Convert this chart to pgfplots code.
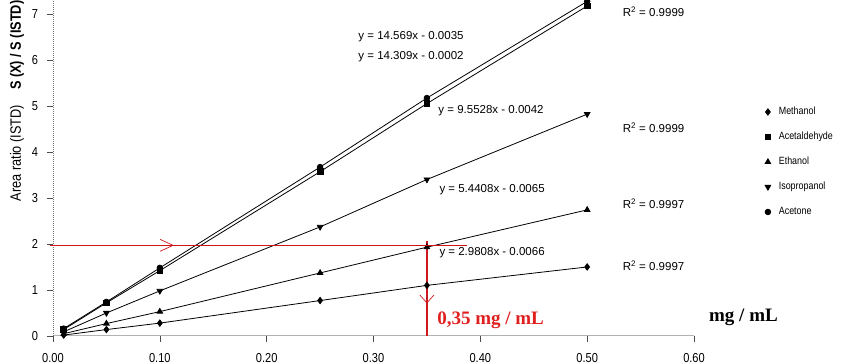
\documentclass[border=0pt]{standalone}
\usepackage{fontspec}
\setmainfont{Liberation Sans}
\newfontfamily\cond[FakeStretch=0.85]{Liberation Sans}
\newfontfamily\tnr{Liberation Serif}
\usepackage{pgfplots}
\pgfplotsset{compat=1.18}
\definecolor{annred}{RGB}{205,24,30}
\definecolor{txtred}{RGB}{224,32,30}

\begin{document}
\begin{tikzpicture}
\begin{axis}[
  at={(53pt,28pt)}, anchor=south west,
  scale only axis, width=641pt, height=336pt,
  xmin=0, xmax=0.6, ymin=0, ymax=7.3,
  axis lines=left, axis line style={-},
  x axis line style={gray!60, line width=1pt},
  y axis line style={black!55, dash pattern=on 1pt off 1pt},
  xtick={0,0.1,0.2,0.3,0.4,0.5,0.6},
  ytick={0,1,2,3,4,5,6,7},
  tick align=outside, major tick length=6pt,
  tick style={black!70, line width=0.5pt},
  /pgf/number format/assume math mode=true,
  xticklabel style={font=\cond\fontsize{13}{13}\selectfont, /pgf/number format/fixed, /pgf/number format/fixed zerofill, /pgf/number format/precision=2, anchor=north, yshift=-8pt},
  yticklabel style={font=\cond\fontsize{13}{13}\selectfont, anchor=east, xshift=-5.5pt},
  clip=false,
  cycle list={{black}},
  every axis plot/.append style={line width=0.8pt, mark size=3.2pt},
  legend style={at={(axis cs:0.6663,4.975)}, anchor=north west, draw=none, fill=none,
    inner sep=0pt, row sep=15.5pt, column sep=8pt,
    font=\cond\fontsize{10.5}{10.5}\selectfont,
    nodes={inner sep=0pt, text height=7.5pt, text depth=2pt}},
  legend cell align=left,
  legend image code/.code={\draw[#1] plot[only marks] coordinates {(0pt,0pt)};},
]
% Methanol
\addplot[black, mark=diamond*, mark options={solid, fill=black}] coordinates {(0.01,0.02) (0.05,0.14) (0.10,0.28) (0.25,0.77) (0.35,1.10) (0.50,1.50)};
\addlegendentry{Methanol}
% Acetaldehyde
\addplot[black, mark=square*, mark options={solid, fill=black}, mark size=2.9pt] coordinates {(0.01,0.14) (0.05,0.72) (0.10,1.42) (0.25,3.57) (0.35,5.05) (0.50,7.17)};
\addlegendentry{Acetaldehyde}
% Ethanol
\addplot[black, mark=triangle*, mark options={solid, fill=black}] coordinates {(0.01,0.05) (0.05,0.27) (0.10,0.53) (0.25,1.37) (0.35,1.93) (0.50,2.74)};
\addlegendentry{Ethanol}
% Isopropanol
\addplot[black, mark=triangle*, mark options={solid, fill=black, rotate=180}] coordinates {(0.01,0.09) (0.05,0.50) (0.10,0.98) (0.25,2.37) (0.35,3.40) (0.50,4.82)};
\addlegendentry{Isopropanol}
% Acetone
\addplot[black, mark=*, mark options={solid, fill=black}, mark size=2.8pt] coordinates {(0.01,0.16) (0.05,0.74) (0.10,1.48) (0.25,3.67) (0.35,5.17) (0.50,7.27)};
\addlegendentry{Acetone}

% red annotation
\draw[annred, line width=1.2pt] (axis cs:0.35,2.06) -- (axis cs:0.35,0);
\draw[annred, line width=0.7pt] (axis cs:0.1002,2.10) -- (axis cs:0.1124,1.97) -- (axis cs:0.1002,1.84);
\draw[annred, line width=0.7pt] (axis cs:0.3434,0.89) -- (axis cs:0.35,0.72) -- (axis cs:0.3566,0.89);
\coordinate (hA) at (axis cs:-0.003,1.97);
\coordinate (hB) at (axis cs:0.3875,1.97);

% equations
\node[font=\fontsize{11.5}{12}\selectfont] at (axis cs:0.3351,6.495) {y = 14.569x - 0.0035};
\node[font=\fontsize{11.5}{12}\selectfont] at (axis cs:0.3351,6.06) {y = 14.309x - 0.0002};
\node[font=\fontsize{11.5}{12}\selectfont] at (axis cs:0.410,4.89) {y = 9.5528x - 0.0042};
\node[font=\fontsize{11.5}{12}\selectfont] at (axis cs:0.411,3.17) {y = 5.4408x - 0.0065};
\node[font=\fontsize{11.5}{12}\selectfont] at (axis cs:0.411,1.80) {y = 2.9808x - 0.0066};
% R2
\node[anchor=west, font=\fontsize{11.5}{12}\selectfont] at (axis cs:0.530,7.04) {R\textsuperscript{2} = 0.9999};
\node[anchor=west, font=\fontsize{11.5}{12}\selectfont] at (axis cs:0.530,4.52) {R\textsuperscript{2} = 0.9999};
\node[anchor=west, font=\fontsize{11.5}{12}\selectfont] at (axis cs:0.530,2.87) {R\textsuperscript{2} = 0.9997};
\node[anchor=west, font=\fontsize{11.5}{12}\selectfont] at (axis cs:0.530,1.52) {R\textsuperscript{2} = 0.9997};
% unit labels
\node[anchor=west, inner sep=0pt, text=txtred, font=\tnr\bfseries\fontsize{19}{20}\selectfont] at (axis cs:0.3595,0.35) {0,35 mg / mL};
\node[anchor=west, inner sep=0pt, font=\tnr\bfseries\fontsize{19}{20}\selectfont] at (axis cs:0.614,0.41) {mg / mL};
\end{axis}
\draw[color={rgb,255:red,210;green,20;blue,25}, line width=1.3pt] (hA) -- (hB);
\node[rotate=90, font=\cond\fontsize{15}{15}\selectfont] at (17pt,263pt) {Area ratio (ISTD)\quad{\bfseries S (X) / S (ISTD)}};
\pgfresetboundingbox
\useasboundingbox (0,0) rectangle (846pt,364pt);
\end{tikzpicture}
\end{document}
